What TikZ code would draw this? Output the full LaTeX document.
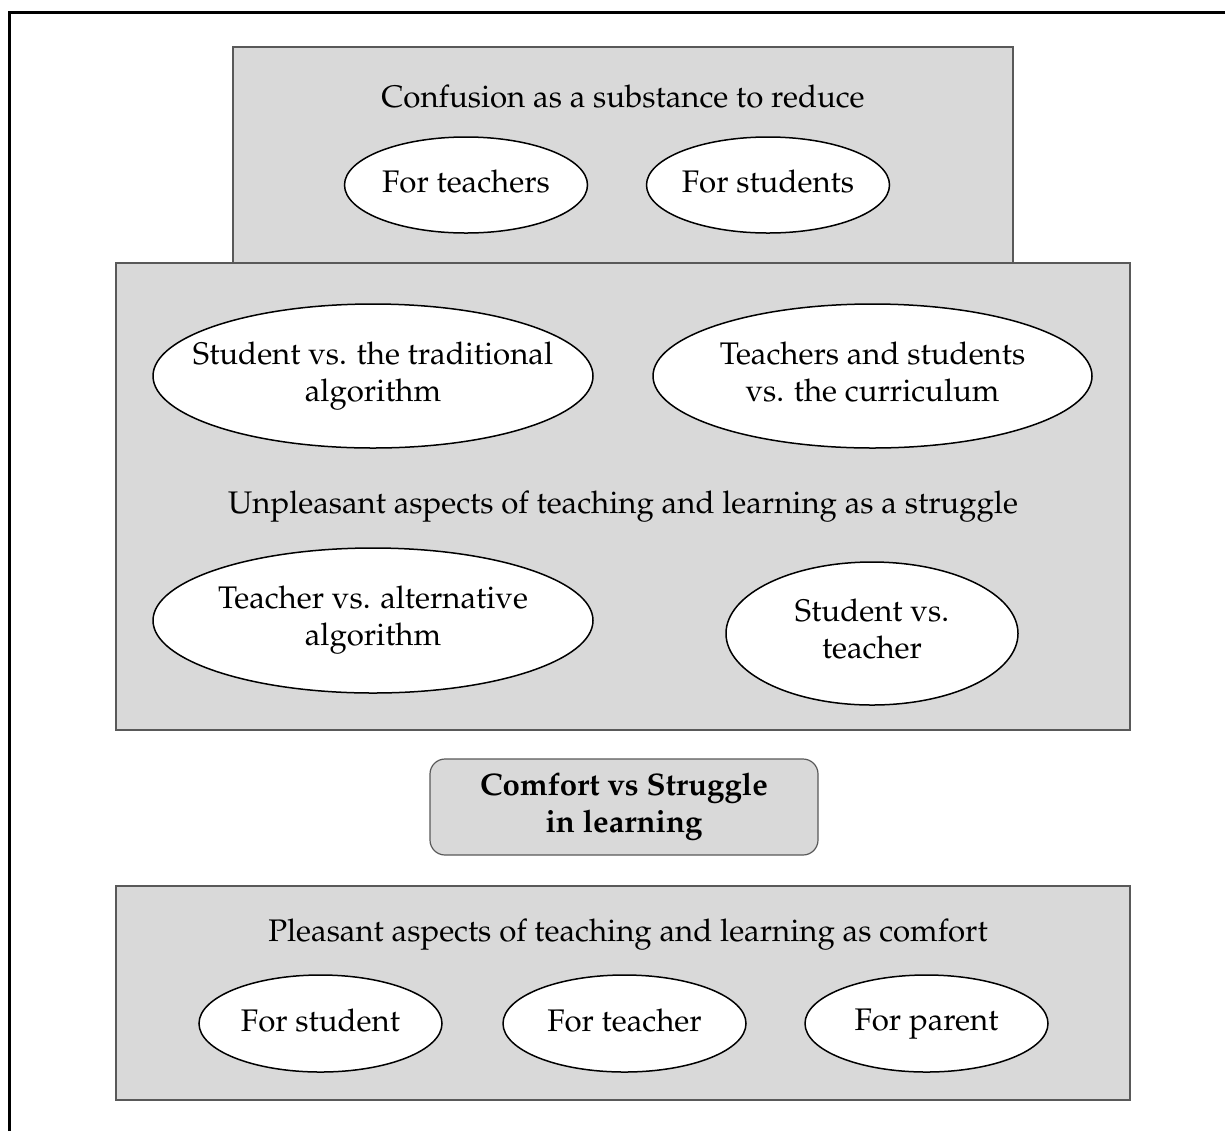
\documentclass[tikz,border=0pt]{standalone}
\usepackage[T1]{fontenc}
\usepackage{mathpazo}
\definecolor{panelgray}{gray}{0.85}
\definecolor{edgegray}{gray}{0.35}

\begin{document}
\begin{tikzpicture}[x=5pt, y=5pt, font=\fontsize{15.6}{18.5}\selectfont,
    panel/.style={fill=panelgray, draw=edgegray, line width=0.6pt},
    bubble/.style={fill=white, draw=black, line width=0.75pt},
    txt/.style={align=center, inner sep=0pt, text depth=4.5pt}]
    \useasboundingbox (0,0) rectangle (122.5,-113.1);
    \draw[line width=1.5pt] (0.9,-113.1) -- (0.9,-1.25) -- (122.5,-1.25);
    \draw[panel] (23.3,-4.7) rectangle (101.3,-26.3);
    \node[txt, anchor=base] (confusion) at (62.3,-10.7) {Confusion as a substance to reduce};
    \draw[bubble] (46.6,-18.5) ellipse [x radius=12.15, y radius=4.8];
    \node[txt] (forteachers) at (46.6,-18.6) {For teachers};
    \draw[bubble] (76.8,-18.5) ellipse [x radius=12.15, y radius=4.8];
    \node[txt] (forstudents) at (76.8,-18.6) {For students};
    \draw[panel] (11.6,-26.3) rectangle (113.0,-73.0);
    \draw[bubble] (37.3,-37.6) ellipse [x radius=22.0, y radius=7.2];
    \node[txt] (traditional) at (37.3,-37.6) {Student vs. the traditional\\algorithm};
    \draw[bubble] (87.25,-37.6) ellipse [x radius=21.95, y radius=7.2];
    \node[txt] (curriculum) at (87.25,-37.6) {Teachers and students\\vs. the curriculum};
    \node[txt, anchor=base] (struggle) at (62.3,-51.3) {Unpleasant aspects of teaching and learning as a struggle};
    \draw[bubble] (37.3,-62.05) ellipse [x radius=22.0, y radius=7.25];
    \node[txt] (alternative) at (37.3,-62.05) {Teacher vs. alternative\\algorithm};
    \draw[bubble] (87.2,-63.35) ellipse [x radius=14.6, y radius=7.15];
    \node[txt] (vsteacher) at (87.2,-63.35) {Student vs.\\teacher};
    \draw[panel, rounded corners=7.5pt] (43.0,-75.9) rectangle (81.8,-85.5);
    \node[txt, font=\fontsize{15.6}{18.5}\selectfont\bfseries] (core) at (62.4,-80.7) {Comfort vs Struggle\\in learning};
    \draw[panel] (11.6,-88.6) rectangle (113.0,-110.0);
    \node[txt, anchor=base] (comfort) at (62.8,-94.1) {Pleasant aspects of teaching and learning as comfort};
    \draw[bubble] (32.05,-102.35) ellipse [x radius=12.15, y radius=4.85];
    \node[txt] (forstudent) at (32.05,-102.45) {For student};
    \draw[bubble] (62.45,-102.35) ellipse [x radius=12.15, y radius=4.85];
    \node[txt] (forteacher) at (62.45,-102.45) {For teacher};
    \draw[bubble] (92.65,-102.35) ellipse [x radius=12.15, y radius=4.85];
    \node[txt] (forparent) at (92.65,-102.45) {For parent};
\end{tikzpicture}
\end{document}
